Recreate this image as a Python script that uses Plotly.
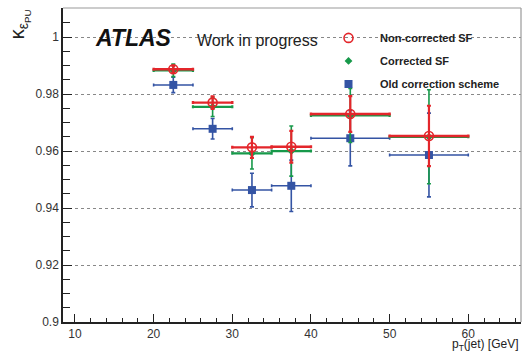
import plotly.graph_objects as go

# ---- data ----
pt_center = [22.5, 27.5, 32.5, 37.5, 45.0, 55.0]
pt_halfwidth = [2.5, 2.5, 2.5, 2.5, 5.0, 5.0]

noncorr = [0.9887, 0.9770, 0.9613, 0.9615, 0.9730, 0.9653]
noncorr_err = [0.0012, 0.0022, 0.0037, 0.0056, 0.0063, 0.0106]

corr = [0.9883, 0.9755, 0.9592, 0.9600, 0.9725, 0.9650]
corr_err = [0.0022, 0.0034, 0.0055, 0.0088, 0.0095, 0.0165]

old = [0.9832, 0.9678, 0.9463, 0.9478, 0.9645, 0.9586]
old_err = [0.0027, 0.0036, 0.0059, 0.0090, 0.0097, 0.0147]

y_tickvals = [0.9, 0.92, 0.94, 0.96, 0.98, 1.0]
y_ticktext = ["0.9", "0.92", "0.94", "0.96", "0.98", "1"]
x_tickvals = [10, 20, 30, 40, 50, 60]
x_ticktext = ["10", "20", "30", "40", "50", "60"]

RED = "#e3262b"
GREEN = "#17994a"
BLUE = "#3454a4"
FONT = "Liberation Sans"

fig = go.Figure()

fig.add_trace(go.Scatter(
    x=pt_center, y=old, mode="markers", name="<b>Old correction scheme</b>",
    legendgroup="c", legendrank=3,
    marker=dict(symbol="square", size=8, color=BLUE),
    error_x=dict(type="data", array=pt_halfwidth, color=BLUE, thickness=1.6, width=1.5),
    error_y=dict(type="data", array=old_err, color=BLUE, thickness=1.6, width=2),
))
fig.add_trace(go.Scatter(
    x=pt_center, y=corr, mode="markers", name="<b>Corrected SF</b>",
    legendgroup="b", legendrank=2,
    marker=dict(symbol="diamond", size=6, color=GREEN),
    error_x=dict(type="data", array=pt_halfwidth, color=GREEN, thickness=2.2, width=1.5),
    error_y=dict(type="data", array=corr_err, color=GREEN, thickness=1.6, width=2),
))
fig.add_trace(go.Scatter(
    x=pt_center, y=noncorr, mode="markers", name="<b>Non-corrected SF</b>",
    legendgroup="a", legendrank=1,
    marker=dict(symbol="circle-open", size=9, color=RED, line=dict(width=1.6, color=RED)),
    error_x=dict(type="data", array=pt_halfwidth, color=RED, thickness=2.4, width=1.5),
    error_y=dict(type="data", array=noncorr_err, color=RED, thickness=2.2, width=2),
))

fig.update_layout(
    width=524, height=354,
    margin=dict(l=63, r=3, t=8, b=32),
    paper_bgcolor="white", plot_bgcolor="white",
    font=dict(family=FONT, size=12, color="#222"),
    showlegend=True,
    legend=dict(
        x=0.5546, y=0.951, xanchor="left", yanchor="top",
        bgcolor="rgba(0,0,0,0)", borderwidth=0,
        itemwidth=53, traceorder="grouped", tracegroupgap=4,
        font=dict(family=FONT, size=11, color="#222"),
    ),
    xaxis=dict(
        range=[8.48, 66.7], tickvals=x_tickvals, ticktext=x_ticktext,
        ticks="inside", ticklen=8, tickwidth=1.2, tickcolor="#222",
        minor=dict(dtick=2, tick0=0, ticks="inside", ticklen=4, tickwidth=1, tickcolor="#222"),
        showgrid=False, zeroline=False,
        showline=True, linecolor="#222", linewidth=1.5,
        tickfont=dict(size=12, color="#333"),
    ),
    yaxis=dict(
        range=[0.9, 1.0102], tickvals=y_tickvals, ticktext=y_ticktext,
        ticks="inside", ticklen=9, tickwidth=1.2, tickcolor="#222",
        minor=dict(dtick=0.005, tick0=0.9, ticks="inside", ticklen=7, tickwidth=1, tickcolor="#222"),
        showgrid=True, gridcolor="#888", griddash="dot", gridwidth=1,
        zeroline=False,
        showline=True, linecolor="#222", linewidth=1.5,
        tickfont=dict(size=12, color="#333"),
    ),
    shapes=[
        dict(type="line", xref="paper", yref="paper", x0=0, x1=1, y0=1, y1=1,
             line=dict(color="#999", width=1.2)),
        dict(type="line", xref="paper", yref="paper", x0=1, x1=1, y0=0, y1=1,
             line=dict(color="#999", width=1.2)),
    ],
    annotations=[
        dict(text="<b><i>ATLAS</i></b>", xref="paper", yref="paper", x=0.066, y=0.906,
             xanchor="left", yanchor="middle", showarrow=False,
             font=dict(family=FONT, size=23, color="#111")),
        dict(text="Work in progress", xref="paper", yref="paper", x=0.288, y=0.897,
             xanchor="left", yanchor="middle", showarrow=False,
             font=dict(family=FONT, size=16, color="#222")),
        dict(text="κ<sub>ε<sub>PU</sub></sub>", xref="paper", yref="paper", x=-0.095, y=0.95,
             xanchor="center", yanchor="middle", textangle=-90, showarrow=False,
             font=dict(family=FONT, size=20, color="#222")),
        dict(text="p<sub>T</sub>(jet) [GeV]", xref="paper", yref="paper", x=1.0, y=-0.072,
             xanchor="right", yanchor="middle", showarrow=False,
             font=dict(family=FONT, size=12, color="#222")),
    ],
)

fig.write_html("out.html", config={"displayModeBar": False},
               post_script="document.body.style.margin='0px';")
